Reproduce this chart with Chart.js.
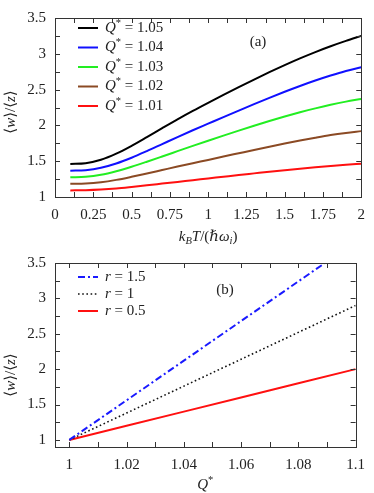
<!DOCTYPE html>
<html><head><meta charset="utf-8">
<script src="https://cdn.jsdelivr.net/npm/chart.js@4"></script>
<style>html,body{margin:0;padding:0;background:#fff}#wrap{width:374px;height:493px}canvas{display:block}</style>
</head><body><div id="wrap"><canvas id="a" width="374" height="245"></canvas><canvas id="b" width="374" height="248"></canvas></div>
<script>
// ---- data (panel a) ----
const tempX = [0.1, 0.2, 0.3, 0.4, 0.5, 0.6, 0.7, 0.8, 0.9, 1.0, 1.1, 1.2, 1.3, 1.4, 1.5, 1.6, 1.7, 1.8, 1.9, 2.0];
const ratioQ105 = [1.462, 1.472, 1.52, 1.605, 1.715, 1.837, 1.962, 2.085, 2.203, 2.316, 2.426, 2.534, 2.64, 2.743, 2.842, 2.936, 3.024, 3.105, 3.18, 3.25];
const ratioQ104 = [1.367, 1.375, 1.408, 1.468, 1.548, 1.641, 1.739, 1.837, 1.932, 2.024, 2.116, 2.207, 2.297, 2.385, 2.47, 2.551, 2.627, 2.697, 2.76, 2.812];
const ratioQ103 = [1.275, 1.282, 1.31, 1.36, 1.423, 1.493, 1.566, 1.64, 1.714, 1.786, 1.857, 1.927, 1.995, 2.061, 2.124, 2.183, 2.238, 2.288, 2.332, 2.37];
const ratioQ102 = [1.184, 1.188, 1.206, 1.239, 1.282, 1.329, 1.377, 1.425, 1.472, 1.518, 1.565, 1.611, 1.657, 1.702, 1.746, 1.788, 1.828, 1.865, 1.895, 1.92];
const ratioQ101 = [1.092, 1.095, 1.104, 1.119, 1.14, 1.163, 1.187, 1.211, 1.235, 1.259, 1.283, 1.307, 1.33, 1.353, 1.375, 1.396, 1.415, 1.433, 1.45, 1.465];
const qLabels = ['1.05', '1.04', '1.03', '1.02', '1.01'];
// ---- data (panel b) ----
const qX = [1, 1.02, 1.04, 1.06, 1.08, 1.1];
const ratioR15 = [1, 1.56, 2.12, 2.68, 3.24, 3.8];
const ratioR1 = [1, 1.38, 1.76, 2.14, 2.52, 2.9];
const ratioR05 = [1, 1.2, 1.4, 1.6, 1.8, 2.0];
const rLabels = ['1.5', '1', '0.5'];

const FONT = '"Liberation Serif", "DejaVu Serif", "DejaVu Sans", serif';
const FS = 15;
const TXT = '#222';

function pts(xs, ys) { return xs.map((x, i) => ({x: x, y: ys[i]})); }

function rich(ctx, parts, x, y, size, align) {
  let w = 0;
  const m = parts.map(p => {
    const fs = (p.sub || p.sup) ? size * 0.7 : size;
    ctx.font = (p.i ? 'italic ' : '') + fs + 'px ' + FONT;
    const pw = ctx.measureText(p.t).width;
    w += pw;
    return {p, fs, pw};
  });
  let cx = align === 'center' ? x - w / 2 : x;
  ctx.textAlign = 'left';
  ctx.textBaseline = 'middle';
  ctx.fillStyle = TXT;
  m.forEach(({p, fs, pw}) => {
    ctx.font = (p.i ? 'italic ' : '') + fs + 'px ' + FONT;
    const dy = p.sub ? size * 0.28 : p.sup ? -size * 0.32 : 0;
    ctx.fillText(p.t, cx, y + dy);
    cx += pw;
  });
}

function fmt(v) { return String(Math.round(v * 1000) / 1000); }
function isMult(v, s) { const r = v / s; return Math.abs(r - Math.round(r)) < 1e-6; }

const yTitle = [{t: '⟨'}, {t: 'w', i: true}, {t: '⟩/⟨'}, {t: 'z', i: true}, {t: '⟩'}];

function framePlugin(cfg) {
  return {
    id: 'frame' + cfg.id,
    afterDraw(chart) {
      const ctx = chart.ctx, a = chart.chartArea;
      ctx.save();
      ctx.strokeStyle = '#333';
      ctx.lineWidth = 1;
      ctx.strokeRect(Math.round(a.left) + 0.5, Math.round(a.top) + 0.5, Math.round(a.right - a.left), Math.round(a.bottom - a.top));
      const L = 5;
      const xs = chart.scales.x, ys = chart.scales.y;
      ctx.beginPath();
      xs.ticks.forEach(t => {
        const p = Math.round(xs.getPixelForValue(t.value)) + 0.5;
        if (p <= a.left + 1 || p >= a.right - 1) return;
        ctx.moveTo(p, a.bottom); ctx.lineTo(p, a.bottom - L);
        ctx.moveTo(p, a.top); ctx.lineTo(p, a.top + L);
      });
      ys.ticks.forEach(t => {
        const p = Math.round(ys.getPixelForValue(t.value)) + 0.5;
        if (p <= a.top + 1 || p >= a.bottom - 1) return;
        ctx.moveTo(a.left, p); ctx.lineTo(a.left + L, p);
        ctx.moveTo(a.right, p); ctx.lineTo(a.right - L, p);
      });
      ctx.stroke();
      // legend
      chart.data.datasets.forEach((ds, i) => {
        const y = cfg.legY + i * cfg.legDy;
        ctx.save();
        ctx.strokeStyle = ds.borderColor;
        ctx.lineWidth = ds.borderWidth;
        ctx.setLineDash(ds.borderDash || []);
        ctx.beginPath(); ctx.moveTo(78, y); ctx.lineTo(98, y); ctx.stroke();
        ctx.restore();
        rich(ctx, cfg.legParts(ds.label), 105, y, FS, 'left');
      });
      // panel label
      rich(ctx, [{t: cfg.panel}], cfg.panelX, cfg.panelY, FS, 'center');
      // x title
      rich(ctx, cfg.xTitle, (a.left + a.right) / 2, cfg.xTitleY, FS, 'center');
      // y title
      ctx.save();
      ctx.translate(11, cfg.yTitleY);
      ctx.rotate(-Math.PI / 2);
      rich(ctx, yTitle, 0, 0, FS, 'center');
      ctx.restore();
      ctx.restore();
    }
  };
}

function scaleOpts(min, max, step, labStep, fitSize, isX) {
  return {
    type: 'linear', min: min, max: max,
    grid: {display: false, drawTicks: false},
    border: {display: false},
    afterFit(s) { if (isX) s.height = fitSize; else s.width = fitSize; },
    ticks: {
      stepSize: step, autoSkip: false, maxRotation: 0, includeBounds: false,
      padding: 9,
      color: TXT, font: {family: FONT, size: FS},
      callback(v) { return (isMult(v, labStep) && v >= 1 - 1e-9) || (isX && isMult(v, labStep)) ? fmt(v) : ''; }
    }
  };
}

// Panel a
const colorsA = ['#000000', '#1010ff', '#22ee22', '#8b4a24', '#ff1010'];
const seriesA = [ratioQ105, ratioQ104, ratioQ103, ratioQ102, ratioQ101];
new Chart(document.getElementById('a'), {
  type: 'line',
  data: {
    datasets: seriesA.map((s, i) => ({
      label: qLabels[i], data: pts(tempX, s), borderColor: colorsA[i], borderWidth: 2,
      pointRadius: 0, cubicInterpolationMode: 'monotone', fill: false
    }))
  },
  options: {
    responsive: false, animation: false,
    layout: {padding: {top: 7, right: 11, left: 0, bottom: 0}},
    plugins: {legend: {display: false}, tooltip: {enabled: false}},
    scales: {
      x: scaleOpts(0, 2, 0.125, 0.25, 48, true),
      y: scaleOpts(1, 3.5, 0.25, 0.5, 55, false)
    }
  },
  plugins: [framePlugin({
    id: 'a', legY: 28, legDy: 19.5,
    legParts: l => [{t: 'Q', i: true}, {t: '*', sup: true}, {t: ' = ' + l}],
    panel: '(a)', panelX: 258, panelY: 42,
    xTitle: [{t: 'k', i: true}, {t: 'B', i: true, sub: true}, {t: 'T', i: true}, {t: '/('}, {t: 'ℏ', i: true}, {t: 'ω', i: true}, {t: 'i', i: true, sub: true}, {t: ')'}],
    xTitleY: 237, yTitleY: 112
  })]
});

// Panel b
new Chart(document.getElementById('b'), {
  type: 'line',
  data: {
    datasets: [
      {label: rLabels[0], data: pts(qX, ratioR15), borderColor: '#1a1aff', borderWidth: 2, borderDash: [7, 3, 2, 3], pointRadius: 0, tension: 0},
      {label: rLabels[1], data: pts(qX, ratioR1), borderColor: '#111111', borderWidth: 1.6, borderDash: [1.6, 2.6], pointRadius: 0, tension: 0},
      {label: rLabels[2], data: pts(qX, ratioR05), borderColor: '#ff1010', borderWidth: 2, pointRadius: 0, tension: 0}
    ]
  },
  options: {
    responsive: false, animation: false,
    layout: {padding: {top: 12, right: 11, left: 0, bottom: 0}},
    plugins: {legend: {display: false}, tooltip: {enabled: false}},
    scales: {
      x: scaleOpts(0.995, 1.1, 0.01, 0.02, 46, true),
      y: scaleOpts(0.9, 3.5, 0.25, 0.5, 55, false)
    }
  },
  plugins: [framePlugin({
    id: 'b', legY: 32, legDy: 17,
    legParts: l => [{t: 'r', i: true}, {t: ' = ' + l}],
    panel: '(b)', panelX: 225, panelY: 45,
    xTitle: [{t: 'Q', i: true}, {t: '*', sup: true}],
    xTitleY: 240, yTitleY: 130
  })]
});
</script>
</body></html>
